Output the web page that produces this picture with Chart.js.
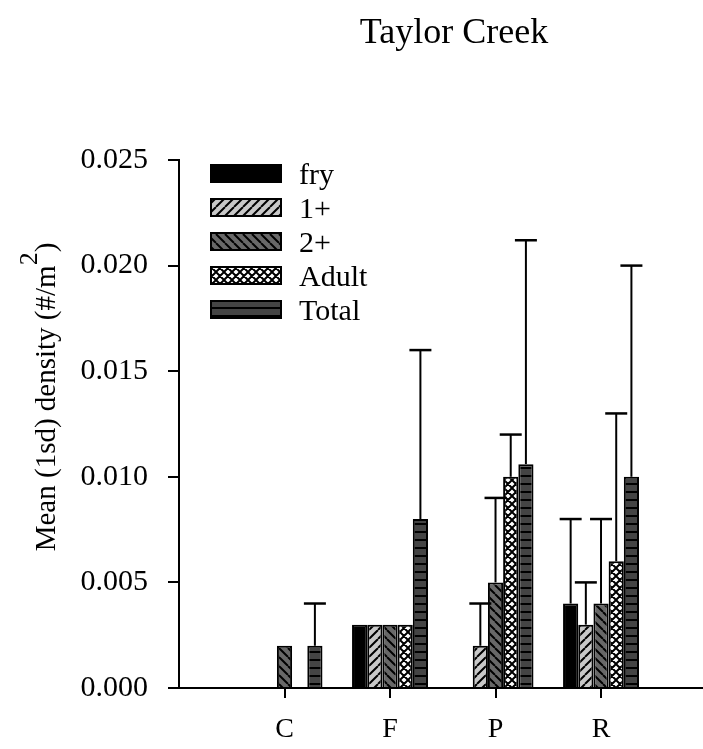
<!DOCTYPE html>
<html>
<head>
<meta charset="utf-8">
<script src="https://cdn.jsdelivr.net/npm/chart.js@4/dist/chart.umd.min.js"></script>
<style>
  html, body { margin: 0; padding: 0; background: #fff; }
  #wrap { width: 703px; height: 749px; }
</style>
</head>
<body>
<div id="wrap"><canvas id="chart" width="703" height="749"></canvas></div>
<script>
// Dados
const chartTitle = 'Taylor Creek';
const categories = ['C', 'F', 'P', 'R'];
const categoryPos = [1, 2, 3, 4];
const seriesNames = ['fry', '1+', '2+', 'Adult', 'Total'];
const yTicks = [0, 0.005, 0.010, 0.015, 0.020, 0.025];

const fryMean   = [null, 0.003, null, 0.004];
const fryErr    = [null, null, null, 0.004];
const oneMean   = [null, 0.003, 0.002, 0.003];
const oneErr    = [null, null, 0.002, 0.002];
const twoMean   = [0.002, 0.003, 0.005, 0.004];
const twoErr    = [null, null, 0.004, 0.004];
const adultMean = [null, 0.003, 0.010, 0.006];
const adultErr  = [null, null, 0.002, 0.007];
const totalMean = [0.002, 0.008, 0.0106, 0.010];
const totalErr  = [0.002, 0.008, 0.0106, 0.010];

const FONT = '"Liberation Serif", "Times New Roman", serif';
const canvas = document.getElementById('chart');
const ctx = canvas.getContext('2d');

// Padrões de preenchimento
function makePattern(bg, size, draw) {
  const c = document.createElement('canvas');
  c.width = size; c.height = size;
  const g = c.getContext('2d');
  g.fillStyle = bg;
  g.fillRect(0, 0, size, size);
  g.strokeStyle = '#000';
  g.lineWidth = 2;
  g.beginPath();
  draw(g, size);
  g.stroke();
  return ctx.createPattern(c, 'repeat');
}
const fwd = (g, s) => { [-s, 0, s].forEach(k => { g.moveTo(k, s); g.lineTo(k + s, 0); }); };
const back = (g, s) => { [-s, 0, s].forEach(k => { g.moveTo(k, 0); g.lineTo(k + s, s); }); };

const fills = [
  '#000',
  makePattern('#c8c8c8', 9, fwd),
  makePattern('#686868', 9, back),
  makePattern('#fff', 8, (g, s) => { fwd(g, s); back(g, s); }),
  makePattern('#444', 8, (g, s) => { g.moveTo(0, s / 2); g.lineTo(s, s / 2); })
];
const means = [fryMean, oneMean, twoMean, adultMean, totalMean];
const errs = [fryErr, oneErr, twoErr, adultErr, totalErr];

const datasets = seriesNames.map((name, k) => ({
  label: name,
  data: categoryPos.map((x, i) => ({ x: x, y: means[k][i] })),
  errors: errs[k],
  backgroundColor: fills[k],
  borderColor: '#000',
  borderWidth: 2,
  categoryPercentage: 0.72,
  barPercentage: 1
}));

// Barras de erro (só para cima)
const errorBars = {
  id: 'errorBars',
  afterDatasetsDraw(chart) {
    const c = chart.ctx, ys = chart.scales.y;
    c.save();
    c.strokeStyle = '#000';
    chart.data.datasets.forEach((ds, di) => {
      const meta = chart.getDatasetMeta(di);
      ds.errors.forEach((e, i) => {
        const v = ds.data[i].y;
        if (e == null || v == null) return;
        const bar = meta.data[i];
        const top = ys.getPixelForValue(v + e);
        c.lineWidth = 2;
        c.beginPath();
        c.moveTo(bar.x, bar.y);
        c.lineTo(bar.x, top);
        c.stroke();
        c.lineWidth = 2.5;
        c.beginPath();
        c.moveTo(bar.x - 11, top);
        c.lineTo(bar.x + 11, top);
        c.stroke();
      });
    });
    c.restore();
  }
};

// Título, eixo Y e legenda
const texts = {
  id: 'texts',
  afterDraw(chart) {
    const c = chart.ctx;
    c.save();
    c.fillStyle = '#000';
    c.textBaseline = 'alphabetic';
    c.textAlign = 'center';
    c.font = '36px ' + FONT;
    c.fillText(chartTitle, 454, 43);

    // título do eixo Y com expoente
    const main = 'Mean (1sd) density (#/m', sup = '2', end = ')';
    c.font = '29px ' + FONT;
    const w1 = c.measureText(main).width, w3 = c.measureText(end).width;
    c.font = '26px ' + FONT;
    const w2 = c.measureText(sup).width;
    const total = w1 + w2 + w3;
    c.translate(55, 397);
    c.rotate(-Math.PI / 2);
    c.textAlign = 'left';
    c.font = '29px ' + FONT;
    c.fillText(main, -total / 2, 0);
    c.font = '26px ' + FONT;
    c.fillText(sup, -total / 2 + w1, -18);
    c.font = '29px ' + FONT;
    c.fillText(end, -total / 2 + w1 + w2, 0);
    c.setTransform(1, 0, 0, 1, 0, 0);

    // legenda
    c.font = '30px ' + FONT;
    c.textAlign = 'left';
    seriesNames.forEach((name, k) => {
      const top = 164 + k * 34;
      c.fillStyle = fills[k];
      c.fillRect(210, top, 72, 19);
      c.strokeStyle = '#000';
      c.lineWidth = 2;
      c.strokeRect(211, top + 1, 70, 17);
      c.fillStyle = '#000';
      c.fillText(name, 299, top + 20);
    });
    c.restore();
  }
};

new Chart(canvas, {
  type: 'bar',
  data: { datasets: datasets },
  plugins: [errorBars, texts],
  options: {
    responsive: false,
    animation: false,
    layout: { padding: { top: 160, right: 1, left: 0, bottom: 0 } },
    plugins: { legend: { display: false }, title: { display: false }, tooltip: { enabled: false } },
    scales: {
      x: {
        type: 'linear',
        min: 0,
        max: 4.957,
        offset: false,
        afterBuildTicks(s) { s.ticks = categoryPos.map(v => ({ value: v })); },
        afterFit(s) { s.height = 61; },
        border: { display: true, color: '#000', width: 2 },
        grid: { offset: false, drawOnChartArea: false, drawTicks: true, tickLength: 10, color: '#000', lineWidth: 2 },
        ticks: {
          color: '#000', padding: 15, autoSkip: false, maxRotation: 0,
          font: { family: FONT, size: 28 },
          callback: v => categories[categoryPos.indexOf(v)]
        }
      },
      y: {
        min: 0,
        max: 0.025,
        afterBuildTicks(s) { s.ticks = yTicks.map(v => ({ value: v })); },
        afterFit(s) { s.width = 179; },
        border: { display: true, color: '#000', width: 2 },
        grid: { drawOnChartArea: false, drawTicks: true, tickLength: 11, color: '#000', lineWidth: 2 },
        ticks: {
          color: '#000', padding: 20,
          font: { family: FONT, size: 30 },
          callback: v => v.toFixed(3)
        }
      }
    }
  }
});
</script>
</body>
</html>
